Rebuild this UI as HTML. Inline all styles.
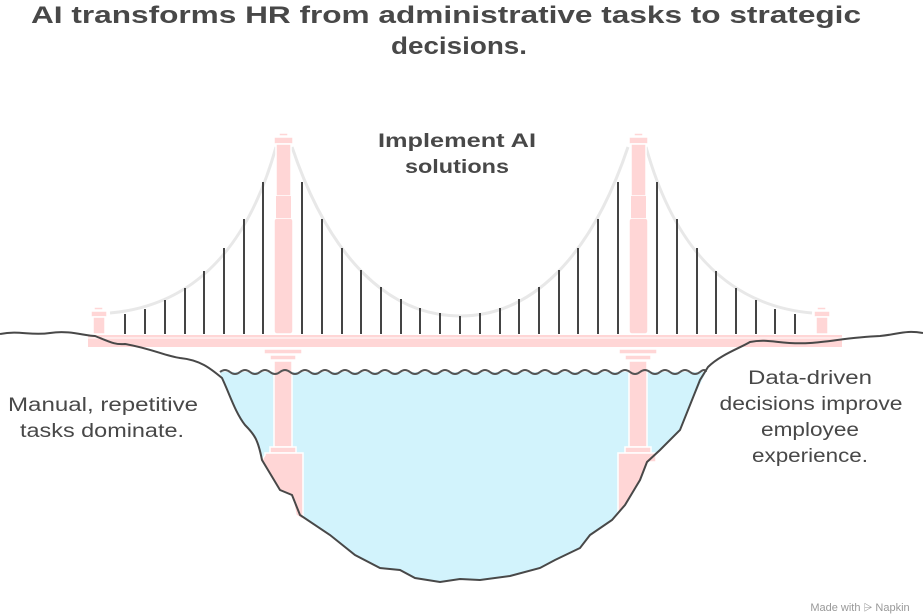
<!DOCTYPE html>
<html><head><meta charset="utf-8"><style>
html,body{margin:0;padding:0;background:#fff;}
svg{display:block;}
text{font-family:"Liberation Sans",sans-serif;fill:#484848;}
</style></head><body>
<svg width="923" height="616" viewBox="0 0 923 616" xmlns="http://www.w3.org/2000/svg">
<!-- title -->
<text x="446" y="23" font-size="24" font-weight="bold" text-anchor="middle" textLength="830" lengthAdjust="spacingAndGlyphs">AI transforms HR from administrative tasks to strategic</text>
<text x="459" y="54" font-size="24" font-weight="bold" text-anchor="middle" textLength="136" lengthAdjust="spacingAndGlyphs">decisions.</text>

<!-- water -->
<path d="M220,372 L706,372 L690,405 L680,430 L660,450 L647,462 L640,480 L625,505 L612,520 L590,535 L580,548 L555,560 L540,568 L510,576 L480,580 L460,579 L440,582 L415,578 L400,570 L380,568 L355,555 L330,535 L300,515 L292,495 L280,490 L262,460 L258,440 L240,420 L222,378 Z" fill="#d2f3fc"/>

<!-- piers -->
<g fill="#ffd6d6" stroke="#fff" stroke-width="1.5">
<rect x="264" y="349" width="38" height="5"/><rect x="270" y="355" width="26" height="5"/>
<rect x="274" y="361" width="18" height="86"/><rect x="270" y="447" width="26" height="6"/>
<path d="M265,453 L303,453 L303,520 L296,515 L292,495 L280,490 L262,460 L265,455 Z"/>
<rect x="619" y="349" width="38" height="5"/><rect x="625" y="355" width="26" height="5"/>
<rect x="629" y="361" width="18" height="86"/><rect x="625" y="447" width="26" height="6"/>
<path d="M618,453 L656,453 L656,462 L647,462 L640,480 L625,505 L618,515 Z"/>
</g>

<!-- waves -->
<path d="M220,372 q5,-4 10,0 t10,0 t10,0 t10,0 t10,0 t10,0 t10,0 t10,0 t10,0 t10,0 t10,0 t10,0 t10,0 t10,0 t10,0 t10,0 t10,0 t10,0 t10,0 t10,0 t10,0 t10,0 t10,0 t10,0 t10,0 t10,0 t10,0 t10,0 t10,0 t10,0 t10,0 t10,0 t10,0 t10,0 t10,0 t10,0 t10,0 t10,0 t10,0 t10,0 t10,0 t10,0 t10,0 t10,0 t10,0 t10,0 t10,0 t10,0 t6,0" fill="none" stroke="#555" stroke-width="2"/>

<!-- deck -->
<rect x="88" y="335" width="754" height="12" fill="#ffd6d6"/>
<line x1="88" y1="338" x2="842" y2="338" stroke="#fff" stroke-width="1"/>

<!-- cables -->
<g fill="none" stroke="#e8e8e8" stroke-width="3">
<path d="M110,313 C200,305 250,240 276,147"/>
<path d="M292,147 C330,260 390,316 460,316 C530,316 590,260 628,147"/>
<path d="M646,147 C672,240 722,305 812,313"/>
</g>

<!-- hangers -->
<g stroke="#444" stroke-width="2">
<line x1="125" y1="314" x2="125" y2="334"/><line x1="145" y1="309" x2="145" y2="334"/><line x1="165" y1="300" x2="165" y2="334"/><line x1="185" y1="288" x2="185" y2="334"/><line x1="204" y1="271" x2="204" y2="334"/><line x1="224" y1="248" x2="224" y2="334"/><line x1="244" y1="219" x2="244" y2="334"/><line x1="263" y1="182" x2="263" y2="334"/>
<line x1="302" y1="182" x2="302" y2="334"/><line x1="322" y1="219" x2="322" y2="334"/><line x1="342" y1="248" x2="342" y2="334"/><line x1="361" y1="270" x2="361" y2="334"/><line x1="381" y1="287" x2="381" y2="334"/><line x1="401" y1="299" x2="401" y2="334"/><line x1="420" y1="308" x2="420" y2="334"/><line x1="440" y1="313" x2="440" y2="334"/><line x1="460" y1="316" x2="460" y2="334"/><line x1="480" y1="313" x2="480" y2="334"/><line x1="500" y1="308" x2="500" y2="334"/><line x1="519" y1="299" x2="519" y2="334"/><line x1="539" y1="287" x2="539" y2="334"/><line x1="559" y1="270" x2="559" y2="334"/><line x1="578" y1="248" x2="578" y2="334"/><line x1="598" y1="219" x2="598" y2="334"/><line x1="618" y1="182" x2="618" y2="334"/>
<line x1="657" y1="182" x2="657" y2="334"/><line x1="677" y1="219" x2="677" y2="334"/><line x1="697" y1="248" x2="697" y2="334"/><line x1="716" y1="271" x2="716" y2="334"/><line x1="736" y1="288" x2="736" y2="334"/><line x1="756" y1="300" x2="756" y2="334"/><line x1="775" y1="309" x2="775" y2="334"/><line x1="795" y1="314" x2="795" y2="334"/>
</g>

<!-- towers -->
<g fill="#ffd6d6" stroke="#fff" stroke-width="1.5">
<rect x="279" y="133" width="9" height="3"/><rect x="274" y="137" width="19" height="7"/>
<rect x="276" y="144" width="15" height="52"/><rect x="274" y="218" width="19" height="116" rx="3"/>
<rect x="634" y="133" width="9" height="3"/><rect x="629" y="137" width="19" height="7"/>
<rect x="631" y="144" width="15" height="52"/><rect x="629" y="218" width="19" height="116" rx="3"/>
<rect x="94" y="307" width="9" height="3"/><rect x="91" y="311" width="16" height="6"/><rect x="93" y="317" width="12" height="17"/>
<rect x="817" y="307" width="9" height="3"/><rect x="814" y="311" width="16" height="6"/><rect x="816" y="317" width="12" height="17"/>
</g>
<rect x="276" y="196" width="15" height="22" fill="#ffd6d6"/>
<rect x="631" y="196" width="15" height="22" fill="#ffd6d6"/>

<!-- ground -->
<path d="M0,334 C20,330 30,336 50,333 C70,330 85,336 95,336 C110,342 115,345 125,344 C150,348 165,356 180,358 C200,360 210,368 222,378 C230,395 235,412 245,425 C255,435 258,440 262,460 L280,490 L292,495 L300,515 L330,535 L355,555 L380,568 L400,570 L415,578 L440,582 L460,579 L480,580 L510,576 L540,568 L555,560 L580,548 L590,535 L612,520 L625,505 L640,480 L647,462 L660,450 L680,430 L690,405 L700,380 L708,367 C720,355 740,348 750,342 C770,338 780,345 810,343 C830,342 850,337 880,336 C900,334 905,330 923,333" fill="none" stroke="#484848" stroke-width="2"/>

<!-- labels -->
<text x="457" y="147" font-size="19" font-weight="bold" text-anchor="middle" textLength="158" lengthAdjust="spacingAndGlyphs">Implement AI</text>
<text x="457" y="173" font-size="19" font-weight="bold" text-anchor="middle" textLength="104" lengthAdjust="spacingAndGlyphs">solutions</text>
<text x="103" y="411" font-size="19" text-anchor="middle" textLength="190" lengthAdjust="spacingAndGlyphs">Manual, repetitive</text>
<text x="102" y="437" font-size="19" text-anchor="middle" textLength="164" lengthAdjust="spacingAndGlyphs">tasks dominate.</text>
<text x="810" y="384" font-size="19" text-anchor="middle" textLength="124" lengthAdjust="spacingAndGlyphs">Data-driven</text>
<text x="811" y="410" font-size="19" text-anchor="middle" textLength="183" lengthAdjust="spacingAndGlyphs">decisions improve</text>
<text x="810" y="436" font-size="19" text-anchor="middle" textLength="98" lengthAdjust="spacingAndGlyphs">employee</text>
<text x="810" y="462" font-size="19" text-anchor="middle" textLength="116" lengthAdjust="spacingAndGlyphs">experience.</text>
<text x="860" y="611" font-size="11" text-anchor="middle" style="fill:#999">Made with ⩥ Napkin</text>
</svg>
</body></html>
